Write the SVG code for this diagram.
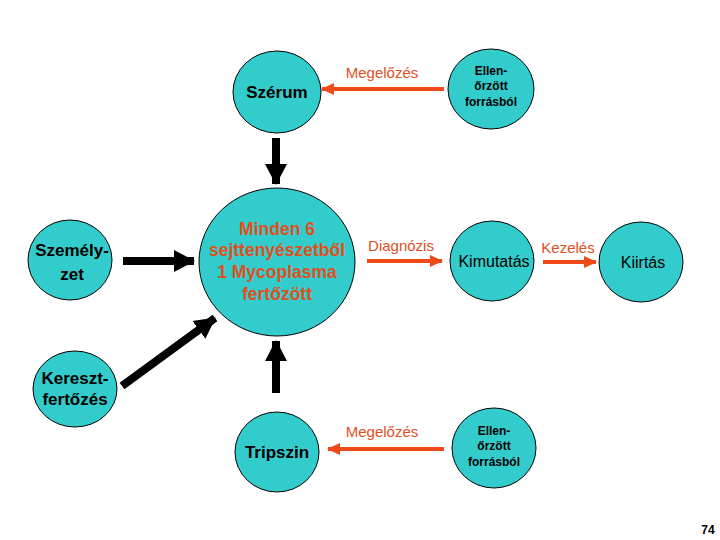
<svg xmlns="http://www.w3.org/2000/svg" width="720" height="540" viewBox="0 0 720 540">
<style>
.c{fill:#33CCCC;stroke:#000;stroke-width:1}
.t{font-family:"Liberation Sans",Arial,sans-serif;text-anchor:middle}
.b{font-weight:bold}
.k{fill:#000}
.o{fill:#E0501E}
.ra{stroke:#F04A18;stroke-width:4;fill:none}
.ba{stroke:#000;stroke-width:8;fill:none}
</style>
<defs>
<marker id="rh" markerUnits="userSpaceOnUse" markerWidth="14" markerHeight="12" refX="12" refY="6" orient="auto"><path d="M0,0 L13,6 L0,12 Z" fill="#F04A18"/></marker>
<marker id="bh" markerUnits="userSpaceOnUse" markerWidth="24" markerHeight="24" refX="20" refY="12" orient="auto"><path d="M0,1 L21,12 L0,23 Z" fill="#000"/></marker>
</defs>
<rect width="720" height="540" fill="#fff"/>
<g id="connectors">
<line class="ra" x1="444" y1="89" x2="322" y2="89" marker-end="url(#rh)"/>
<line class="ra" x1="444" y1="449" x2="328" y2="449" marker-end="url(#rh)"/>
<line class="ra" x1="367" y1="261" x2="442" y2="261" marker-end="url(#rh)"/>
<line class="ra" x1="543" y1="262" x2="596" y2="262" marker-end="url(#rh)"/>
<line class="ba" x1="276" y1="138" x2="276" y2="184" marker-end="url(#bh)"/>
<line class="ba" x1="276" y1="393" x2="276" y2="341" marker-end="url(#bh)"/>
<line class="ba" x1="123" y1="261" x2="194" y2="261" marker-end="url(#bh)"/>
<line class="ba" x1="122" y1="386" x2="215" y2="318" marker-end="url(#bh)"/>
<text class="t o" x="382" y="78" font-size="15">Megelőzés</text>
<text class="t o" x="382" y="437" font-size="15">Megelőzés</text>
<text class="t o" x="401" y="251" font-size="15">Diagnózis</text>
<text class="t o" x="568" y="253" font-size="15">Kezelés</text>
</g>
<g id="szerum"><ellipse class="c" cx="277" cy="92" rx="44" ry="41"/><text class="t b k" x="277" y="98" font-size="17">Szérum</text></g>
<g id="ellen1"><ellipse class="c" cx="491" cy="89" rx="43" ry="40"/>
<text class="t b k" x="491" y="75" font-size="12">Ellen-</text>
<text class="t b k" x="491" y="90" font-size="12">őrzött</text>
<text class="t b k" x="491" y="106" font-size="12">forrásból</text></g>
<g id="fertozott"><ellipse class="c" cx="277" cy="262" rx="78" ry="74"/>
<text class="t b o" x="277" y="235" font-size="17.5">Minden 6</text>
<text class="t b o" x="277" y="256" font-size="17.5">sejttenyészetből</text>
<text class="t b o" x="277" y="278" font-size="17.5">1 Mycoplasma</text>
<text class="t b o" x="277" y="300" font-size="17.5">fertőzött</text></g>
<g id="szemelyzet"><ellipse class="c" cx="70" cy="260" rx="42" ry="40"/>
<text class="t b k" x="72" y="256" font-size="17">Személy-</text>
<text class="t b k" x="72" y="280" font-size="17">zet</text></g>
<g id="kimutatas"><ellipse class="c" cx="492" cy="261" rx="42" ry="40"/><text class="t k" x="494" y="267" font-size="16">Kimutatás</text></g>
<g id="kiirtas"><ellipse class="c" cx="641" cy="262" rx="42" ry="40"/><text class="t k" x="643" y="268" font-size="16">Kiirtás</text></g>
<g id="kereszt"><ellipse class="c" cx="75" cy="389" rx="42" ry="38"/>
<text class="t b k" x="75" y="384" font-size="17">Kereszt-</text>
<text class="t b k" x="75" y="405" font-size="17">fertőzés</text></g>
<g id="tripszin"><ellipse class="c" cx="277" cy="452" rx="42" ry="40"/><text class="t b k" x="277" y="458" font-size="17">Tripszin</text></g>
<g id="ellen2"><ellipse class="c" cx="494" cy="448" rx="42" ry="40"/>
<text class="t b k" x="494" y="435" font-size="12">Ellen-</text>
<text class="t b k" x="494" y="450" font-size="12">őrzött</text>
<text class="t b k" x="494" y="466" font-size="12">forrásból</text></g>
<text class="t b k" x="708" y="534" font-size="12">74</text>
</svg>
